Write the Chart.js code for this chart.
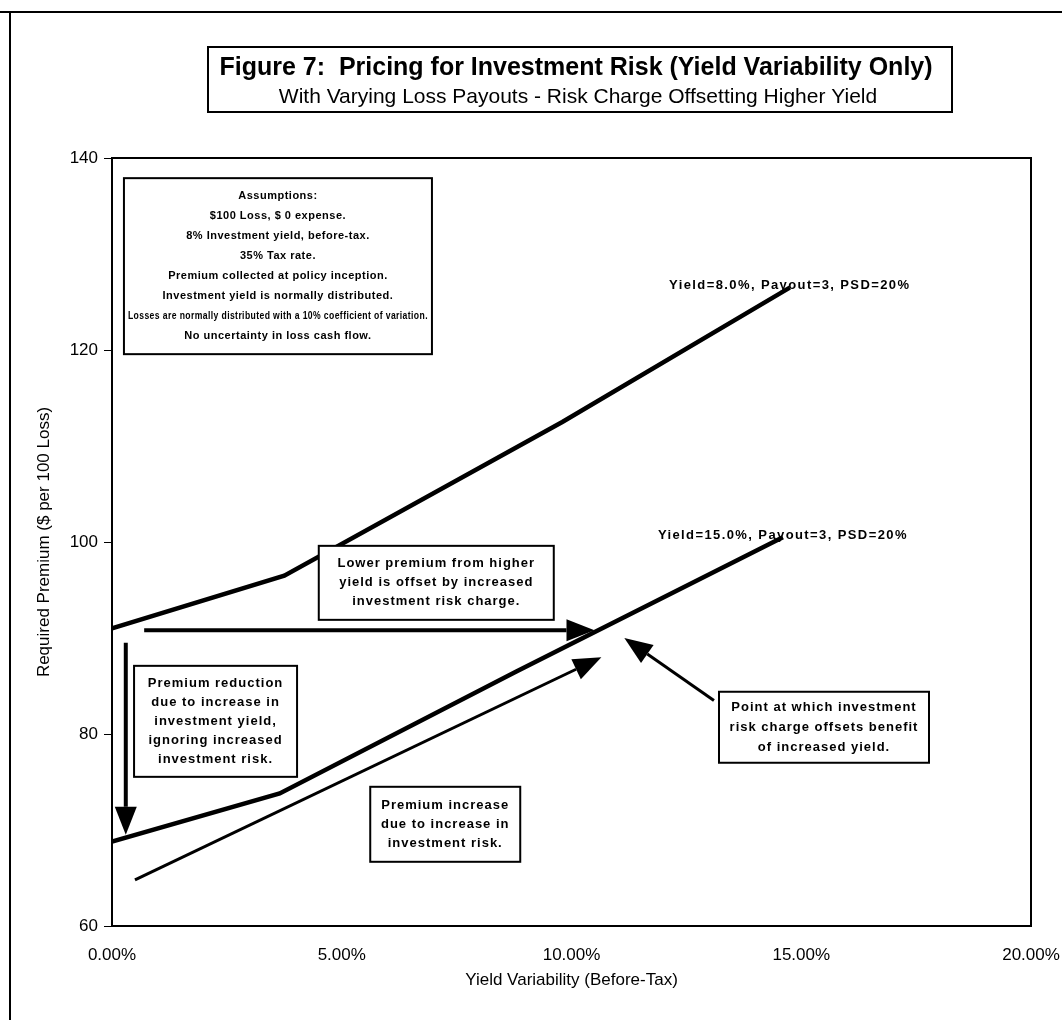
<!DOCTYPE html>
<html>
<head>
<meta charset="utf-8">
<script src="https://cdn.jsdelivr.net/npm/chart.js@4.4.0/dist/chart.umd.min.js"></script>
<style>
html, body { margin: 0; padding: 0; background: #fff; }
canvas { display: block; }
</style>
</head>
<body>
<canvas id="chart" width="1062" height="1020"></canvas>
<script>
const FONT = '"Liberation Sans", Arial, sans-serif'

// series (x = yield variability %, y = premium)
const yieldVar8 = [0, 3.75, 9.8, 14.75]
const premium8 = [91, 96.5, 112.5, 126.5]
const yieldVar15 = [0, 3.65, 8.8, 14.6]
const premium15 = [68.8, 73.8, 86.5, 100.5]
const seriesNames = ['Yield=8.0%, Payout=3, PSD=20%', 'Yield=15.0%, Payout=3, PSD=20%']

const xTicks = [0, 5, 10, 15, 20]
const yTicks = [60, 80, 100, 120, 140]

// arrows, tail -> head, in data units
const arrowTails = [[0.5, 64.8], [0.7, 90.8], [0.3, 89.5], [13.1, 83.5]]
const arrowHeads = [[10.65, 88], [10.5, 90.8], [0.3, 69.5], [11.15, 90]]
const arrowWidths = [3, 4, 4, 3]

const assumptions = [
    'Assumptions:',
    '$100 Loss, $ 0 expense.',
    '8% Investment yield, before-tax.',
    '35% Tax rate.',
    'Premium collected at policy inception.',
    'Investment yield is normally distributed.',
    'Losses are normally distributed with a 10% coefficient of variation.',
    'No uncertainty in loss cash flow.'
]
const noteOffset = ['Lower premium from higher', 'yield is offset by increased', 'investment risk charge.']
const noteReduction = ['Premium reduction', 'due to increase in', 'investment yield,', 'ignoring increased', 'investment risk.']
const noteIncrease = ['Premium increase', 'due to increase in', 'investment risk.']
const notePoint = ['Point at which investment', 'risk charge offsets benefit', 'of increased yield.']

// where the note boxes sit: top-left corner in data units, size in px
const noteBoxes = [
    { lines: assumptions, x: 0.26, y: 137.9, w: 308, h: 176, size: 11, lh: 20, sp: 0.5 },
    { lines: noteOffset, x: 4.5, y: 99.6, w: 235, h: 74, size: 13, lh: 19, sp: 1 },
    { lines: noteReduction, x: 0.48, y: 87.1, w: 163, h: 111, size: 13, lh: 19, sp: 1 },
    { lines: noteIncrease, x: 5.62, y: 74.5, w: 150, h: 75, size: 13, lh: 19, sp: 1 },
    { lines: notePoint, x: 13.21, y: 84.4, w: 210, h: 71, size: 13, lh: 20, sp: 1 }
]

const fitText = (ctx, text, cx, cy, maxW) => {
    const w = ctx.measureText(text).width
    if (w > maxW) {
        ctx.save()
        ctx.translate(cx, cy)
        ctx.scale(maxW / w, 1)
        ctx.fillText(text, 0, 0)
        ctx.restore()
    } else {
        ctx.fillText(text, cx, cy)
    }
}

const drawArrow = (ctx, x0, y0, x1, y1) => {
    const ang = Math.atan2(y1 - y0, x1 - x0)
    const len = 28, half = 11
    const bx = x1 - len * Math.cos(ang), by = y1 - len * Math.sin(ang)
    ctx.beginPath()
    ctx.moveTo(x0, y0)
    ctx.lineTo(bx, by)
    ctx.stroke()
    ctx.beginPath()
    ctx.moveTo(x1, y1)
    ctx.lineTo(bx + half * Math.sin(ang), by - half * Math.cos(ang))
    ctx.lineTo(bx - half * Math.sin(ang), by + half * Math.cos(ang))
    ctx.closePath()
    ctx.fill()
}

const decorations = {
    id: 'decorations',
    afterDraw(chart) {
        const { ctx, chartArea: a, scales: { x, y } } = chart
        ctx.save()
        ctx.strokeStyle = '#000'
        ctx.fillStyle = '#000'

        // page frame
        ctx.lineWidth = 2
        ctx.beginPath()
        ctx.moveTo(0, 12); ctx.lineTo(1062, 12)
        ctx.moveTo(10, 12); ctx.lineTo(10, 1020)
        ctx.stroke()

        // plot border
        ctx.lineWidth = 2
        ctx.strokeRect(a.left, a.top, a.right - a.left, a.bottom - a.top)

        // title box
        ctx.fillStyle = '#fff'
        ctx.fillRect(208, 47, 744, 65)
        ctx.strokeRect(208, 47, 744, 65)
        ctx.fillStyle = '#000'
        ctx.textAlign = 'center'
        ctx.textBaseline = 'middle'
        ctx.font = 'bold 25px ' + FONT
        ctx.fillText('Figure 7:  Pricing for Investment Risk (Yield Variability Only)', 576, 68)
        ctx.font = '21px ' + FONT
        ctx.fillText('With Varying Loss Payouts - Risk Charge Offsetting Higher Yield', 578, 97)

        // arrows
        arrowTails.forEach((t, i) => {
            const h = arrowHeads[i]
            ctx.lineWidth = arrowWidths[i]
            drawArrow(ctx, x.getPixelForValue(t[0]), y.getPixelForValue(t[1]),
                x.getPixelForValue(h[0]), y.getPixelForValue(h[1]))
        })

        // note boxes
        noteBoxes.forEach(b => {
            const bx = x.getPixelForValue(b.x), by = y.getPixelForValue(b.y)
            ctx.fillStyle = '#fff'
            ctx.fillRect(bx, by, b.w, b.h)
            ctx.lineWidth = 2
            ctx.strokeRect(bx, by, b.w, b.h)
            ctx.fillStyle = '#000'
            ctx.font = 'bold ' + b.size + 'px ' + FONT
            ctx.letterSpacing = b.sp + 'px'
            const top = by + b.h / 2 - (b.lines.length - 1) * b.lh / 2
            b.lines.forEach((ln, i) => fitText(ctx, ln, bx + b.w / 2, top + i * b.lh, b.w - 8))
            ctx.letterSpacing = '0px'
        })

        // series labels, centred on each line's last point
        ctx.font = 'bold 13px ' + FONT
        ctx.letterSpacing = '1.4px'
        chart.data.datasets.slice(0, 2).forEach((ds, i) => {
            const p = ds.data[ds.data.length - 1]
            ctx.fillText(seriesNames[i], x.getPixelForValue(p.x), y.getPixelForValue(p.y) - 2)
        })
        ctx.restore()
    }
}

new Chart(document.getElementById('chart'), {
    type: 'scatter',
    data: {
        datasets: [
            {
                label: seriesNames[0],
                data: yieldVar8.map((v, i) => ({ x: v, y: premium8[i] })),
                showLine: true,
                borderColor: '#000',
                borderWidth: 4.5,
                pointRadius: 0
            },
            {
                label: seriesNames[1],
                data: yieldVar15.map((v, i) => ({ x: v, y: premium15[i] })),
                showLine: true,
                borderColor: '#000',
                borderWidth: 4.5,
                pointRadius: 0
            }
        ]
    },
    options: {
        responsive: false,
        animation: false,
        layout: { padding: { left: 30, top: 158, right: 31, bottom: 20 } },
        plugins: { legend: { display: false }, tooltip: { enabled: false } },
        scales: {
            x: {
                type: 'linear',
                min: xTicks[0],
                max: xTicks[xTicks.length - 1],
                afterBuildTicks: s => { s.ticks = xTicks.map(v => ({ value: v })) },
                afterFit: s => { s.height = 74; s.paddingRight = 0; s.paddingLeft = 0 },
                grid: { display: false },
                border: { display: false },
                ticks: {
                    color: '#000',
                    padding: 11,
                    font: { family: FONT, size: 17 },
                    callback: v => v.toFixed(2) + '%'
                },
                title: {
                    display: true,
                    text: 'Yield Variability (Before-Tax)',
                    color: '#000',
                    font: { family: FONT, size: 17 },
                    padding: { top: 0, bottom: 9 }
                }
            },
            y: {
                min: yTicks[0],
                max: yTicks[yTicks.length - 1],
                afterBuildTicks: s => { s.ticks = yTicks.map(v => ({ value: v })) },
                afterFit: s => { s.width = 82; s.paddingTop = 0; s.paddingBottom = 0 },
                grid: { drawOnChartArea: false, drawTicks: true, tickLength: 8, color: '#000' },
                border: { display: false },
                ticks: {
                    color: '#000',
                    padding: 6,
                    font: { family: FONT, size: 17 }
                },
                title: {
                    display: true,
                    text: 'Required Premium ($ per 100 Loss)',
                    color: '#000',
                    font: { family: FONT, size: 17 },
                    padding: { top: 4, bottom: 0 }
                }
            }
        }
    },
    plugins: [decorations]
})
</script>
</body>
</html>
